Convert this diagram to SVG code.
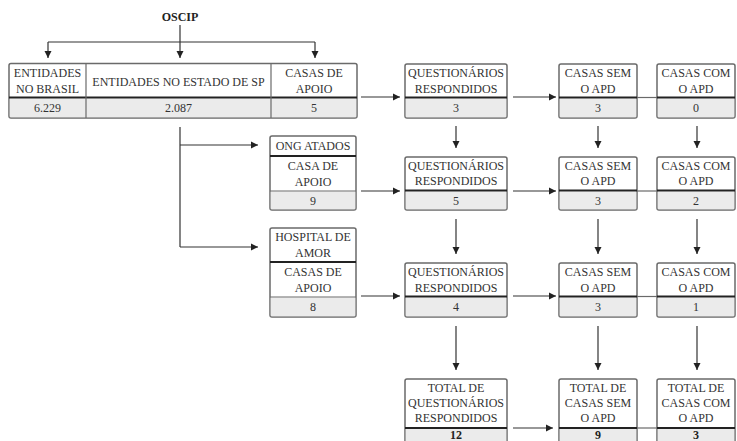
<svg xmlns="http://www.w3.org/2000/svg" width="737" height="441" viewBox="0 0 737 441">
<style>
.bg{fill:#ffffff}
.box{fill:#ffffff;stroke:#6a6a6a;stroke-width:1.5}
.val{fill:#ebebeb}
.thick{stroke:#222222;stroke-width:2}
.thin{stroke:#6a6a6a;stroke-width:1.2}
.t{font-family:"Liberation Serif","Times New Roman",serif;font-size:12px;fill:#333333;text-anchor:middle}
.b{font-weight:bold;fill:#222222}
.c{stroke:#333333;stroke-width:1.2;fill:none}
.a{marker-end:url(#arr)}
</style>
<defs>
<marker id="arr" markerUnits="userSpaceOnUse" markerWidth="8" markerHeight="8" refX="7" refY="4" orient="auto">
<path d="M0,0.5 L7,4 L0,7.5 z" fill="#222222"/>
</marker>
</defs>
<rect class="bg" x="0" y="0" width="737" height="441"/>

<g id="connectors">
<line class="c" x1="180" y1="25" x2="180" y2="42"/>
<line class="c" x1="48" y1="42" x2="315" y2="42"/>
<line class="c a" x1="48" y1="42" x2="48" y2="58"/>
<line class="c a" x1="180" y1="42" x2="180" y2="58"/>
<line class="c a" x1="315" y1="42" x2="315" y2="58"/>

<line class="c a" x1="361" y1="97" x2="400" y2="97"/>
<line class="c a" x1="513" y1="97" x2="556" y2="97"/>
<line class="thin" x1="637" y1="97.5" x2="657" y2="97.5"/>

<line class="c" x1="180" y1="127" x2="180" y2="247"/>
<line class="c a" x1="180" y1="145" x2="258" y2="145"/>
<line class="c a" x1="180" y1="247" x2="258" y2="247"/>

<line class="c a" x1="361" y1="191" x2="400" y2="191"/>
<line class="c a" x1="513" y1="191" x2="556" y2="191"/>
<line class="thin" x1="637" y1="191" x2="657" y2="191"/>

<line class="c a" x1="361" y1="296" x2="400" y2="296"/>
<line class="c a" x1="513" y1="296" x2="556" y2="296"/>
<line class="thin" x1="637" y1="296.5" x2="657" y2="296.5"/>

<line class="c a" x1="513" y1="428" x2="553" y2="428"/>
<line class="thin" x1="637" y1="428" x2="657" y2="428"/>

<line class="c a" x1="456" y1="126" x2="456" y2="148"/>
<line class="c a" x1="598" y1="126" x2="598" y2="148"/>
<line class="c a" x1="697" y1="126" x2="697" y2="148"/>
<line class="c a" x1="456" y1="219" x2="456" y2="254"/>
<line class="c a" x1="598" y1="219" x2="598" y2="254"/>
<line class="c a" x1="697" y1="219" x2="697" y2="254"/>
<line class="c a" x1="456" y1="326" x2="456" y2="370"/>
<line class="c a" x1="598" y1="326" x2="598" y2="370"/>
<line class="c a" x1="697" y1="326" x2="697" y2="370"/>
</g>

<g id="oscip">
<text class="t b" x="180" y="21">OSCIP</text>
</g>

<g id="entidades">
<rect class="box" x="9" y="63.5" width="348" height="54.5" rx="2"/>
<rect class="val" x="9.75" y="98.5" width="346.5" height="18.75"/>
<line class="thick" x1="9" y1="97.5" x2="357" y2="97.5"/>
<line class="thin" x1="86" y1="63.5" x2="86" y2="118"/>
<line class="thin" x1="271" y1="63.5" x2="271" y2="118"/>
<text class="t" x="47.5" y="77">ENTIDADES</text>
<text class="t" x="47.5" y="93">NO BRASIL</text>
<text class="t" x="178.5" y="86">ENTIDADES NO ESTADO DE SP</text>
<text class="t" x="314" y="77">CASAS DE</text>
<text class="t" x="314" y="93">APOIO</text>
<text class="t" x="47.5" y="112">6.229</text>
<text class="t" x="178.5" y="112">2.087</text>
<text class="t" x="314" y="112">5</text>
</g>

<g id="q1">
<rect class="box" x="405" y="64" width="102" height="54" rx="2"/>
<rect class="val" x="405.75" y="98.5" width="100.5" height="18.75"/>
<line class="thick" x1="405" y1="97.5" x2="507" y2="97.5"/>
<text class="t" x="456" y="77">QUESTIONÁRIOS</text>
<text class="t" x="456" y="93">RESPONDIDOS</text>
<text class="t" x="456" y="112">3</text>
</g>
<g id="sem1">
<rect class="box" x="559" y="64" width="78" height="54" rx="2"/>
<rect class="val" x="559.75" y="98.5" width="76.5" height="18.75"/>
<line class="thick" x1="559" y1="97.5" x2="637" y2="97.5"/>
<text class="t" x="598" y="77">CASAS SEM</text>
<text class="t" x="598" y="93">O APD</text>
<text class="t" x="598" y="112">3</text>
</g>
<g id="com1">
<rect class="box" x="657" y="64" width="78" height="54" rx="2"/>
<rect class="val" x="657.75" y="98.5" width="76.5" height="18.75"/>
<line class="thick" x1="657" y1="97.5" x2="735" y2="97.5"/>
<text class="t" x="696" y="77">CASAS COM</text>
<text class="t" x="696" y="93">O APD</text>
<text class="t" x="696" y="112">0</text>
</g>

<g id="ong">
<rect class="box" x="270" y="136" width="86" height="74" rx="2"/>
<rect class="val" x="270.75" y="191.5" width="84.5" height="17.75"/>
<line class="thick" x1="270" y1="156" x2="356" y2="156"/>
<line class="thin" x1="270" y1="191" x2="356" y2="191"/>
<text class="t" x="313" y="150">ONG ATADOS</text>
<text class="t" x="313" y="170">CASA DE</text>
<text class="t" x="313" y="186">APOIO</text>
<text class="t" x="313" y="205">9</text>
</g>
<g id="q2">
<rect class="box" x="405" y="157" width="102" height="53" rx="2"/>
<rect class="val" x="405.75" y="191.5" width="100.5" height="17.75"/>
<line class="thick" x1="405" y1="190.5" x2="507" y2="190.5"/>
<text class="t" x="456" y="170">QUESTIONÁRIOS</text>
<text class="t" x="456" y="185">RESPONDIDOS</text>
<text class="t" x="456" y="205">5</text>
</g>
<g id="sem2">
<rect class="box" x="559" y="157" width="78" height="53" rx="2"/>
<rect class="val" x="559.75" y="191.5" width="76.5" height="17.75"/>
<line class="thick" x1="559" y1="190.5" x2="637" y2="190.5"/>
<text class="t" x="598" y="170">CASAS SEM</text>
<text class="t" x="598" y="185">O APD</text>
<text class="t" x="598" y="205">3</text>
</g>
<g id="com2">
<rect class="box" x="657" y="157" width="78" height="53" rx="2"/>
<rect class="val" x="657.75" y="191.5" width="76.5" height="17.75"/>
<line class="thick" x1="657" y1="190.5" x2="735" y2="190.5"/>
<text class="t" x="696" y="170">CASAS COM</text>
<text class="t" x="696" y="185">O APD</text>
<text class="t" x="696" y="205">2</text>
</g>

<g id="hospital">
<rect class="box" x="270" y="228" width="86" height="89" rx="2"/>
<rect class="val" x="270.75" y="297.5" width="84.5" height="18.75"/>
<line class="thick" x1="270" y1="262" x2="356" y2="262"/>
<line class="thin" x1="270" y1="297" x2="356" y2="297"/>
<text class="t" x="313" y="241">HOSPITAL DE</text>
<text class="t" x="313" y="257">AMOR</text>
<text class="t" x="313" y="276">CASAS DE</text>
<text class="t" x="313" y="292">APOIO</text>
<text class="t" x="313" y="311">8</text>
</g>
<g id="q3">
<rect class="box" x="405" y="263" width="102" height="54" rx="2"/>
<rect class="val" x="405.75" y="297.5" width="100.5" height="18.75"/>
<line class="thick" x1="405" y1="296.5" x2="507" y2="296.5"/>
<text class="t" x="456" y="276">QUESTIONÁRIOS</text>
<text class="t" x="456" y="292">RESPONDIDOS</text>
<text class="t" x="456" y="311">4</text>
</g>
<g id="sem3">
<rect class="box" x="559" y="263" width="78" height="54" rx="2"/>
<rect class="val" x="559.75" y="297.5" width="76.5" height="18.75"/>
<line class="thick" x1="559" y1="296.5" x2="637" y2="296.5"/>
<text class="t" x="598" y="276">CASAS SEM</text>
<text class="t" x="598" y="292">O APD</text>
<text class="t" x="598" y="311">3</text>
</g>
<g id="com3">
<rect class="box" x="657" y="263" width="78" height="54" rx="2"/>
<rect class="val" x="657.75" y="297.5" width="76.5" height="18.75"/>
<line class="thick" x1="657" y1="296.5" x2="735" y2="296.5"/>
<text class="t" x="696" y="276">CASAS COM</text>
<text class="t" x="696" y="292">O APD</text>
<text class="t" x="696" y="311">1</text>
</g>

<g id="total-q">
<rect class="box" x="405" y="379" width="102" height="70" rx="2"/>
<rect class="val" x="405.75" y="429" width="100.5" height="12"/>
<line class="thick" x1="405" y1="428" x2="507" y2="428"/>
<text class="t" x="456" y="392">TOTAL DE</text>
<text class="t" x="456" y="407">QUESTIONÁRIOS</text>
<text class="t" x="456" y="422">RESPONDIDOS</text>
<text class="t b" x="456" y="439">12</text>
</g>
<g id="total-sem">
<rect class="box" x="559" y="379" width="78" height="70" rx="2"/>
<rect class="val" x="559.75" y="429" width="76.5" height="12"/>
<line class="thick" x1="559" y1="428" x2="637" y2="428"/>
<text class="t" x="598" y="392">TOTAL DE</text>
<text class="t" x="598" y="407">CASAS SEM</text>
<text class="t" x="598" y="422">O APD</text>
<text class="t b" x="598" y="439">9</text>
</g>
<g id="total-com">
<rect class="box" x="657" y="379" width="78" height="70" rx="2"/>
<rect class="val" x="657.75" y="429" width="76.5" height="12"/>
<line class="thick" x1="657" y1="428" x2="735" y2="428"/>
<text class="t" x="696" y="392">TOTAL DE</text>
<text class="t" x="696" y="407">CASAS COM</text>
<text class="t" x="696" y="422">O APD</text>
<text class="t b" x="696" y="439">3</text>
</g>
</svg>
